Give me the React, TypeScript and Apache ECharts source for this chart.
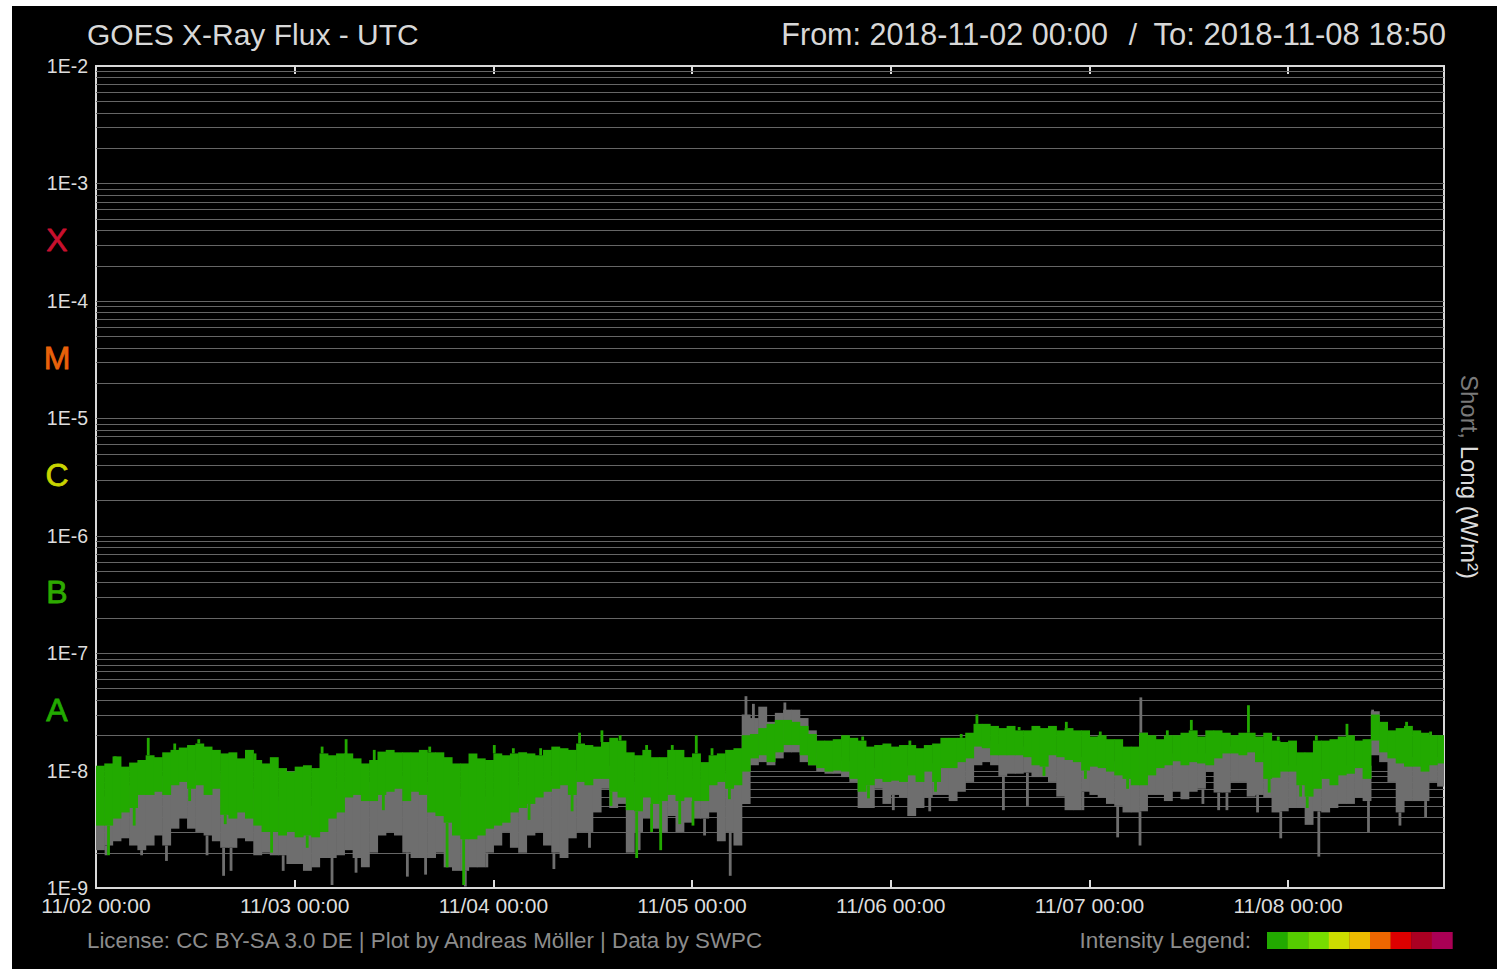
import React, { useEffect, useRef } from 'react';
import * as echarts from 'echarts';

// ---- axis / labels ----
const X_TICK_LABELS = ['11/02 00:00', '11/03 00:00', '11/04 00:00', '11/05 00:00', '11/06 00:00', '11/07 00:00', '11/08 00:00'];
const X_MAX_HOURS = 162 + 50 / 60; // 2018-11-02 00:00 -> 2018-11-08 18:50
const Y_MIN = 1e-9;
const Y_MAX = 1e-2;
const GRID_DECADES = [-9, -8, -7, -6, -5, -4, -3];
const GRID_MULTS = [1, 2, 3, 4, 5, 6, 7, 8, 9];
const CLASSES = [
  { name: 'X', exp: -3.5, color: '#c8102e' },
  { name: 'M', exp: -4.5, color: '#e8620a' },
  { name: 'C', exp: -5.5, color: '#c8d400' },
  { name: 'B', exp: -6.5, color: '#2eaa00' },
  { name: 'A', exp: -7.5, color: '#22aa00' },
];
const LEGEND_COLORS = ['#22aa00', '#55cc00', '#77dd00', '#ccdd00', '#eebb00', '#ee6600', '#dd0000', '#aa0022', '#aa0055'];

// ---- data: hourly envelopes, in units of 1e-9 W/m^2 (hour 0 = 11/02 00:00) ----
const longHi = [
  11, 11.5, 13.2, 10.8, 11.7, 12.3, 13.5, 13, 14.3, 15,
  15.7, 16.5, 17, 16, 15, 14, 14.3, 12.7, 15, 12.3,
  11.5, 13, 10.5, 9.8, 10.8, 11.1, 10.5, 14, 13.5, 14,
  14, 12.7, 11.5, 12.3, 14.5, 15, 14.3, 14.3, 14.3, 15,
  14.3, 14.3, 13, 11.5, 11.5, 14, 12.7, 12.3, 14, 13.5,
  14, 14.3, 14, 13.5, 15, 16, 15.5, 15, 17, 16.5,
  16, 17.5, 19, 18, 14.3, 13.5, 15, 13, 13, 15,
  15, 13, 14, 11.8, 13.5, 14, 15, 15.5, 20, 20.5,
  23, 25, 27, 27, 26, 24, 20.5, 18, 18, 18.5,
  20, 19, 18, 16, 16.5, 17, 16, 16.5, 16.5, 15.5,
  16.5, 17, 19, 19, 19, 21, 25, 25, 24, 23,
  24, 22, 22, 24, 23, 24, 22, 23, 22, 22,
  19.5, 20, 18.5, 18.5, 16, 16, 21, 20, 18.5, 20,
  20, 21, 22, 19.5, 22, 22, 21, 20, 21, 21,
  19.5, 21, 18, 17.5, 18, 14.3, 14.3, 18, 18, 18.5,
  19.5, 20, 18, 18.5, 30, 26, 22, 23, 24, 22,
  21, 20, 20,
];
const longLo = [
  3.4, 3.4, 3.9, 4.4, 4.8, 6.2, 6.2, 6.6, 6.2, 7.5,
  8, 7, 7.5, 6.2, 7, 4.2, 3.9, 4.4, 3.9, 3.4,
  3, 3, 2.8, 3, 2.7, 2.8, 2.7, 3, 3.9, 4.4,
  5.9, 6.2, 5.5, 5.5, 6.2, 6.6, 7, 5.5, 6.6, 6.2,
  4.4, 4.1, 3.6, 2.8, 2.6, 2.6, 2.8, 3.2, 3.4, 3.6,
  4.4, 4.8, 5.2, 5.9, 6.6, 7, 7.5, 6.2, 8, 7.5,
  8.5, 8.5, 6.6, 5.9, 4.6, 4.5, 5.9, 5.2, 5.5, 6.2,
  5.5, 5.9, 5.5, 5.5, 7.5, 8, 7, 7.5, 9.8, 12.7,
  13.5, 11.8, 14.3, 16.5, 16.5, 13.5, 11.1, 10.5, 9.8, 10,
  9.8, 8.5, 6.6, 7.5, 8.5, 8, 8.2, 8, 9.1, 8,
  9.8, 8, 10.5, 10.5, 11.8, 12.7, 16, 15.5, 13.5, 13.5,
  13.5, 13.5, 13, 11.1, 10.8, 13.5, 13, 12.3, 11.8, 10,
  10.8, 10.5, 9.8, 9.1, 8.5, 7.5, 7.5, 9.1, 10.5, 11.1,
  12, 11.1, 11.8, 11.5, 11.1, 12.7, 14, 14, 13.5, 14.3,
  11.8, 8.5, 8.7, 9.8, 9.8, 7.5, 6, 7, 8.5, 7.5,
  9.1, 9.4, 10.5, 8.5, 18, 14.3, 12.7, 11.5, 10.8, 10.8,
  9.8, 11.1, 11.5,
];
const shortHi = [
  6, 6, 6.5, 7, 7.5, 8, 8.5, 9, 9, 9.5,
  10, 10, 10, 9.5, 9.5, 8, 7, 7, 7, 6.5,
  6, 6, 5.5, 5.5, 5, 5, 5, 5.5, 6, 7,
  8, 8.5, 8, 8, 8.5, 9, 9, 8.5, 8.5, 8,
  7.5, 7, 6.5, 6, 5.5, 5.5, 5.5, 6, 6, 6.5,
  7, 7.5, 8, 8, 8.5, 9, 9.5, 9.5, 10, 10,
  10.5, 11, 10, 9, 8, 7.5, 8, 8, 8, 8.5,
  8.5, 8.5, 8.5, 8.5, 9, 9.5, 9.5, 10, 30, 28,
  35, 26, 31, 33, 33, 28, 22, 14, 13, 13,
  12, 11, 10, 10, 10.5, 10.5, 10.5, 10.5, 11, 11,
  11.5, 11.5, 12, 12.5, 13, 15, 18, 18, 17, 16,
  16, 16, 15, 14, 14, 14, 14, 14, 13, 13,
  12.5, 12.5, 12, 11.5, 11, 11, 21, 14, 13, 13,
  14, 14, 14, 14, 14, 15, 16, 16, 16, 16,
  14, 12, 11, 11, 11, 10, 9, 10, 10, 10,
  11, 11, 12, 11, 32, 20, 15, 14, 13, 13,
  12, 13, 13,
];
const shortLo = [
  2.1, 2.3, 2.5, 2.65, 2.3, 2.1, 2.3, 2.8, 2.3, 3.2,
  3.9, 3.2, 3, 2.8, 2.5, 2.2, 2.2, 2.65, 2.5, 1.9,
  2, 1.9, 1.9, 1.6, 1.6, 1.4, 1.5, 1.8, 1.8, 1.9,
  2.1, 1.8, 1.5, 2, 2.8, 3, 2.8, 2, 1.8, 1.8,
  1.8, 2, 1.5, 1.4, 1.4, 1.5, 1.5, 2, 2.3, 3,
  2.2, 2, 2.8, 3, 2.3, 2, 1.8, 2.65, 3, 3,
  4.4, 7, 4.8, 5.2, 2, 3, 3.9, 3.2, 3, 4.1,
  3, 3.6, 3.9, 3.9, 4.4, 2.5, 3, 2.3, 5.2, 11.1,
  11.8, 11.1, 12.7, 14.3, 14.3, 11.8, 11.1, 9.8, 9.4, 9.4,
  8.8, 8, 4.8, 4.8, 7, 5.2, 6.2, 5.9, 4.1, 4.8,
  5.9, 6.2, 6.2, 5.5, 6.6, 8, 11.1, 11.8, 11.1, 9,
  9.4, 9.4, 9.6, 8.8, 8.8, 8, 6, 4.6, 4.6, 6.6,
  6.2, 5.9, 5.2, 5, 4.4, 4.4, 4.5, 6.2, 6.2, 5.5,
  6.6, 5.7, 6.6, 7, 9.8, 6.5, 6.5, 8, 8, 6,
  6.2, 5.9, 4.4, 4.5, 4.8, 4.8, 3.45, 4.5, 4.4, 4.8,
  5.2, 5.2, 5.9, 5.5, 13.5, 11.8, 8, 4.4, 5.5, 5.5,
  5.5, 8, 7.3,
];
// spikes: [hour, from, to] in 1e-9 W/m^2
const longSpikes = [
  [1.5, 3.4, 1.9], [2.3, 11, 13.2], [4.6, 4.8, 3.4], [6.3, 13.5, 19], [9.5, 15, 17],
  [11.3, 7, 5.5], [12.4, 17, 18.5], [15.6, 4.2, 3.5], [19.2, 12.3, 14], [21.2, 3, 2.0],
  [25.5, 2.8, 2.2], [27.3, 14, 16], [30.2, 13.5, 18.5], [33.6, 12.3, 15], [34.7, 6.2, 4.6],
  [40.3, 14.3, 16], [42.4, 3.6, 1.5], [44.4, 2.6, 1.06], [48.1, 14, 16.5], [50.4, 14, 15.5],
  [52.3, 5.2, 3.8], [53.7, 13.5, 15.5], [57.5, 6.2, 4.5], [58.4, 17, 21], [61.1, 17.5, 22],
  [62.2, 6.6, 5], [63.3, 18, 20], [65.3, 4.5, 1.8], [66.5, 15, 16.5], [67.1, 5.2, 3.0],
  [68.2, 5.5, 2.1], [69.6, 15, 16.5], [70.5, 5.5, 3.5], [72.1, 5.5, 3.4], [72.5, 14, 20],
  [74.4, 13.5, 15.5], [76.5, 7, 5.7], [92.6, 18, 19.5], [93.3, 7.5, 5.8], [98.3, 16.5, 18],
  [101.4, 8, 6.6], [104.5, 19, 20.5], [106.4, 25, 30], [111.5, 22, 23.5], [114.5, 10.8, 9],
  [117.2, 23, 26], [119.5, 10, 8.5], [121.3, 20, 21.5], [124.6, 8.5, 7], [129.4, 20, 22],
  [132.3, 22, 27], [139.2, 21, 36], [141.7, 8.5, 6.5], [142.8, 18, 19.5], [145.5, 7.5, 6],
  [146.3, 6, 4.8], [147.4, 18, 20], [151.1, 20, 25], [158.3, 24, 26], [161.2, 20, 21.5],
];
const shortSpikes = [
  [1.2, 2.3, 1.9], [5.5, 2.1, 1.9], [8.5, 2.3, 1.7], [13.4, 2.8, 1.9], [15.4, 2.2, 1.27],
  [16.3, 2.2, 1.4], [22.6, 1.9, 1.4], [28.5, 1.8, 1.06], [31.4, 1.8, 1.35], [37.6, 2, 1.25],
  [39.8, 1.8, 1.3], [44.6, 1.4, 1.03], [47.2, 2, 1.5], [55.3, 2, 1.45], [59.6, 3, 2.2],
  [65.6, 3, 2.1], [73.5, 3.9, 2.8], [76.6, 3, 1.27], [78.5, 20, 43], [79.4, 20, 37],
  [83.2, 27, 38], [96.3, 6.2, 4.6], [100.7, 5.9, 4.5], [109.6, 9, 4.6], [112.5, 9.6, 5],
  [119.2, 6.6, 4.6], [123.4, 5, 2.7], [126.1, 4.5, 2.3], [126.2, 21, 42], [133.7, 7, 5.2],
  [135.6, 6.5, 4.6], [136.6, 6.5, 4.6], [140.3, 6.2, 4.4], [143.1, 4.5, 2.65], [147.7, 4.5, 1.85],
  [153.7, 5.5, 3], [154.2, 30, 33], [157.5, 4.4, 3.4], [160.6, 5.5, 4],
];

const UNIT = 1e-9;
const LONG_COLOR = '#22aa00';
const SHORT_COLOR = '#6e6e6e';
const GRID_LINE_COLOR = '#666666';
const FONT = '"Liberation Sans", Arial, sans-serif';
const OX = 12;
const OY = 6;

function bandData(lo: number[], hi: number[]) {
  return lo.map((v, i) => [i, v * UNIT, hi[i] * UNIT]);
}
function spikeData(s: number[][]) {
  return s.map((d) => [d[0], d[1] * UNIT, d[2] * UNIT]);
}
function bandRender(color: string) {
  return (params: any, api: any) => {
    const h = api.value(0);
    const a = api.coord([h, api.value(2)]);
    const b = api.coord([Math.min(h + 1, X_MAX_HOURS), api.value(1)]);
    return {
      type: 'rect',
      shape: { x: a[0], y: a[1], width: b[0] - a[0] + 0.6, height: b[1] - a[1] },
      style: { fill: color },
    };
  };
}
function spikeRender(color: string) {
  return (params: any, api: any) => {
    const a = api.coord([api.value(0), api.value(1)]);
    const b = api.coord([api.value(0), api.value(2)]);
    return {
      type: 'rect',
      shape: { x: a[0] - 1.3, y: Math.min(a[1], b[1]), width: 2.8, height: Math.abs(b[1] - a[1]) },
      style: { fill: color },
    };
  };
}
function gridLineRender(params: any, api: any) {
  const v = api.value(1);
  const a = api.coord([0, v]);
  const b = api.coord([X_MAX_HOURS, v]);
  const y = Math.round(a[1]) + 0.5;
  return {
    type: 'line',
    shape: { x1: a[0], y1: y, x2: b[0], y2: y },
    style: { stroke: GRID_LINE_COLOR, lineWidth: 1.2 },
  };
}

export default function App() {
  const ref = useRef<HTMLDivElement>(null);
  useEffect(() => {
    if (!ref.current) return;
    const chart = echarts.init(ref.current, undefined, { renderer: 'svg' });
    const gridValues: number[] = [];
    GRID_DECADES.forEach((e) => GRID_MULTS.forEach((k) => {
      const v = k * Math.pow(10, e);
      if (v > Y_MIN * 1.0001) gridValues.push(v);
    }));
    const xLabel = (v: number) => {
      const i = Math.round(v / 24);
      return Math.abs(v - i * 24) < 1e-6 && i < X_TICK_LABELS.length ? X_TICK_LABELS[i] : '';
    };
    const tickStyle = { show: true, inside: true, length: 8, lineStyle: { color: '#dddddd', width: 2 } };
    chart.setOption({
      animation: false,
      backgroundColor: '#000000',
      grid: {
        left: 96 - OX, top: 66 - OY, right: 1497 - 1444, bottom: 969 - 888,
        show: true, backgroundColor: '#000000', borderColor: '#d8d8d8', borderWidth: 2,
      },
      xAxis: [
        {
          type: 'value', min: 0, max: X_MAX_HOURS, interval: 24, position: 'bottom',
          axisLine: { show: false }, splitLine: { show: false }, axisTick: tickStyle,
          axisLabel: {
            formatter: xLabel, color: '#dddddd', fontSize: 21, fontFamily: FONT, margin: 7,
            showMaxLabel: false, hideOverlap: false,
          },
        },
        {
          type: 'value', min: 0, max: X_MAX_HOURS, interval: 24, position: 'top',
          axisLine: { show: false }, splitLine: { show: false }, axisTick: tickStyle,
          axisLabel: { show: false },
        },
      ],
      yAxis: {
        type: 'log', logBase: 10, min: Y_MIN, max: Y_MAX, splitNumber: 7,
        axisLine: { show: false }, axisTick: { show: false }, splitLine: { show: false },
        axisLabel: {
          formatter: (v: number) => '1E' + Math.round(Math.log10(v)),
          color: '#dddddd', fontSize: 19.5, fontFamily: FONT, margin: 8,
        },
      },
      series: [
        {
          type: 'custom', name: 'Grid lines', z: 1, silent: true,
          renderItem: gridLineRender, encode: { x: 0, y: 1 },
          data: gridValues.map((v) => [0, v]),
        },
        {
          type: 'custom', name: 'Short', z: 3, clip: true,
          renderItem: bandRender(SHORT_COLOR), encode: { x: 0, y: [1, 2] },
          data: bandData(shortLo, shortHi),
        },
        {
          type: 'custom', name: 'Short spikes', z: 3, clip: true,
          renderItem: spikeRender(SHORT_COLOR), encode: { x: 0, y: [1, 2] },
          data: spikeData(shortSpikes),
        },
        {
          type: 'custom', name: 'Long', z: 4, clip: true,
          renderItem: bandRender(LONG_COLOR), encode: { x: 0, y: [1, 2] },
          data: bandData(longLo, longHi),
        },
        {
          type: 'custom', name: 'Long spikes', z: 4, clip: true,
          renderItem: spikeRender(LONG_COLOR), encode: { x: 0, y: [1, 2] },
          data: spikeData(longSpikes),
        },
      ],
    });

    const elements: any[] = [
      {
        type: 'text', x: 87 - OX, y: 34 - OY,
        style: { text: 'GOES X-Ray Flux - UTC', fill: '#d8d8d8', fontSize: 30, fontFamily: FONT, textVerticalAlign: 'middle' },
      },
      {
        type: 'text', x: 1108 - OX, y: 34 - OY,
        style: { text: 'From: 2018-11-02 00:00', fill: '#d8d8d8', fontSize: 30.5, fontFamily: FONT, textAlign: 'right', textVerticalAlign: 'middle' },
      },
      {
        type: 'text', x: 1133 - OX, y: 34 - OY,
        style: { text: '/', fill: '#d8d8d8', fontSize: 30, fontFamily: FONT, textAlign: 'center', textVerticalAlign: 'middle' },
      },
      {
        type: 'text', x: 1446 - OX, y: 34 - OY,
        style: { text: 'To: 2018-11-08 18:50', fill: '#d8d8d8', fontSize: 31, fontFamily: FONT, textAlign: 'right', textVerticalAlign: 'middle' },
      },
      {
        type: 'text', x: 87 - OX, y: 940 - OY,
        style: { text: 'License: CC BY-SA 3.0 DE | Plot by Andreas Möller | Data by SWPC', fill: '#8c8c8c', fontSize: 22.3, fontFamily: FONT, textVerticalAlign: 'middle' },
      },
      {
        type: 'text', x: 1251 - OX, y: 940 - OY,
        style: { text: 'Intensity Legend:', fill: '#8c8c8c', fontSize: 22.5, fontFamily: FONT, textAlign: 'right', textVerticalAlign: 'middle' },
      },
      {
        type: 'text', x: 1469 - OX, y: 477 - OY, rotation: -Math.PI / 2,
        style: {
          text: '{a|Short,} {b|Long (W/m²)}',
          fontSize: 24, fontFamily: FONT, textAlign: 'center', textVerticalAlign: 'middle',
          rich: {
            a: { fill: '#7a7a7a', fontSize: 24, fontFamily: FONT },
            b: { fill: '#dddddd', fontSize: 24, fontFamily: FONT },
          },
        },
      },
    ];
    LEGEND_COLORS.forEach((c, i) => {
      elements.push({
        type: 'rect',
        shape: { x: 1267 - OX + i * 20.6, y: 932 - OY, width: 20.9, height: 17 },
        style: { fill: c },
      });
    });
    CLASSES.forEach((c) => {
      const y = chart.convertToPixel({ yAxisIndex: 0 } as any, Math.pow(10, c.exp)) as number;
      elements.push({
        type: 'text', x: 57 - OX, y: y - 2,
        style: { text: c.name, fill: c.color, fontSize: 32, fontFamily: FONT, textAlign: 'center', textVerticalAlign: 'middle', stroke: c.color, lineWidth: 0.8 },
      });
    });
    chart.setOption({ graphic: { elements } });

    return () => chart.dispose();
  }, []);

  return (
    <div style={{ position: 'absolute', left: 0, top: 0, width: 1502, height: 969, background: '#ffffff' }}>
      <div ref={ref} style={{ position: 'absolute', left: OX, top: OY, width: 1485, height: 963 }} />
    </div>
  );
}
